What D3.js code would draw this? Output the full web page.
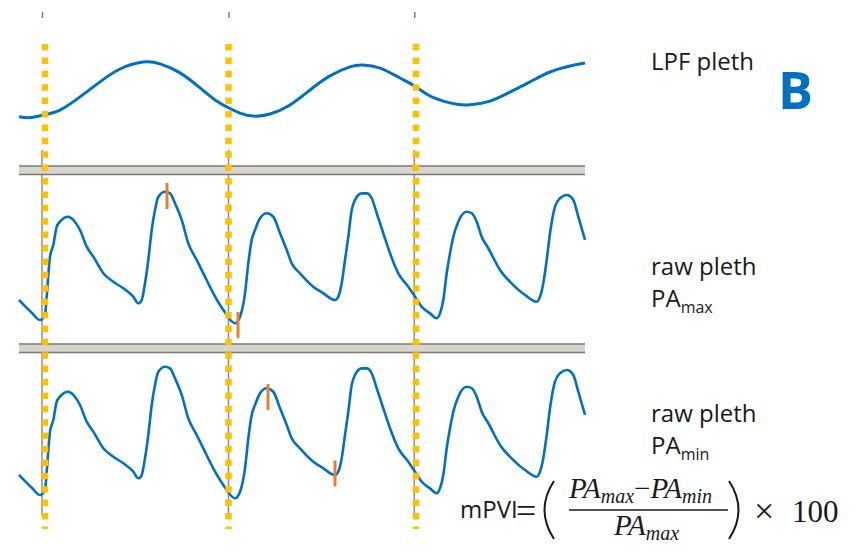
<!DOCTYPE html>
<html lang="en">
<head>
    <meta charset="UTF-8">
    <title>mPVI pleth</title>
    <script src="https://d3js.org/d3.v7.min.js"></script>
    <style>
        body { margin: 0; background: #fff; }
        text { font-family: "Open Sans", "Noto Sans", sans-serif; fill: #1a1a1a; }
        .math { font-family: "Liberation Serif", "DejaVu Serif", serif; }
    </style>
</head>
<body>
    <svg id="chart" width="865" height="556"></svg>

    <script>
        // time in seconds, values in arbitrary units
        const lpfTime = [0, 0.11, 0.25, 0.41, 0.61, 0.81, 1.01, 1.24, 1.41, 1.61, 1.81, 1.96, 2.10, 2.21, 2.34,
            2.51, 2.71, 2.91, 3.11, 3.31, 3.44, 3.61, 3.81, 3.97, 4.11, 4.31, 4.49, 4.71, 4.91, 5.11, 5.31, 5.51, 5.66];
        const lpfValue = [-0.89, -0.92, -0.83, -0.67, -0.23, 0.27, 0.70, 0.93, 0.87, 0.57, 0.07, -0.33, -0.60, -0.77, -0.87,
            -0.80, -0.50, 0.00, 0.47, 0.77, 0.83, 0.73, 0.40, 0.10, -0.20, -0.43, -0.50, -0.37, -0.07, 0.27, 0.60, 0.80, 0.90];

        const rawTime = [0, 0.06, 0.13, 0.21, 0.26, 0.277, 0.31, 0.343, 0.377, 0.41, 0.493, 0.543, 0.61, 0.677, 0.743,
            0.843, 0.943, 1.043, 1.143, 1.193, 1.227, 1.26, 1.293, 1.327, 1.36, 1.393, 1.46, 1.51, 1.56, 1.627, 1.693,
            1.777, 1.843, 1.943, 2.043, 2.16, 2.21, 2.26, 2.293, 2.327, 2.36, 2.41, 2.477, 2.543, 2.61, 2.677, 2.727,
            2.81, 2.943, 3.043, 3.16, 3.193, 3.227, 3.26, 3.293, 3.327, 3.36, 3.427, 3.477, 3.527, 3.577, 3.643, 3.71,
            3.793, 3.893, 3.96, 4.027, 4.11, 4.177, 4.21, 4.243, 4.277, 4.31, 4.343, 4.393, 4.477, 4.527, 4.577, 4.627,
            4.693, 4.81, 4.943, 5.06, 5.177, 5.21, 5.243, 5.277, 5.31, 5.36, 5.41, 5.477, 5.543, 5.593, 5.66];
        const rawValue = [0.214, 0.171, 0.121, 0.071, 0.107, 0.238, 0.524, 0.607, 0.738, 0.774, 0.809, 0.786, 0.714, 0.595, 0.524,
            0.405, 0.345, 0.298, 0.238, 0.191, 0.214, 0.334, 0.5, 0.714, 0.857, 0.952, 0.988, 0.976, 0.905, 0.786, 0.619,
            0.5, 0.405, 0.262, 0.143, 0.048, 0.095, 0.262, 0.476, 0.643, 0.714, 0.798, 0.834, 0.809, 0.691, 0.571, 0.476,
            0.405, 0.309, 0.262, 0.214, 0.238, 0.334, 0.5, 0.666, 0.857, 0.929, 0.976, 0.976, 0.941, 0.834, 0.691, 0.548,
            0.405, 0.309, 0.238, 0.166, 0.119, 0.084, 0.119, 0.214, 0.405, 0.548, 0.666, 0.774, 0.845, 0.834, 0.774, 0.666,
            0.584, 0.429, 0.321, 0.25, 0.202, 0.238, 0.334, 0.5, 0.691, 0.881, 0.941, 0.964, 0.929, 0.809, 0.643];

        // axis ticks and the dotted marker lines (s)
        const tickTimes = [0.23, 2.095, 3.953];
        const markTimes = [0.26, 2.095, 3.97];

        // orange PA markers on the raw traces
        const maxMarkers = [{ t: 1.48, v: 0.957 }, { t: 2.19, v: 0.036 }];
        const minMarkers = [{ t: 2.49, v: 0.771 }, { t: 3.16, v: 0.225 }];

        const svg = d3.select("#chart");
        const blue = "#0070c0";

        const x = d3.scaleLinear().domain([0, 5.66]).range([19, 585]);
        const yLpf = d3.scaleLinear().domain([-1, 1]).range([120, 60]);
        const yMid = d3.scaleLinear().domain([0, 1]).range([330, 190]);
        const yBot = d3.scaleLinear().domain([0, 1]).range([505, 365]);

        // top ticks
        const axis = svg.append("g")
            .attr("transform", "translate(0,18)")
            .call(d3.axisTop(x).tickValues(tickTimes).tickSize(6).tickFormat(""));
        axis.select(".domain").remove();
        axis.selectAll(".tick line").attr("stroke", "#7f7f7f").attr("stroke-width", 1.5);

        // thin gray lines under the dotted markers
        svg.selectAll(".vgrid")
            .data(tickTimes)
            .enter().append("line")
            .attr("x1", d => x(d)).attr("x2", d => x(d))
            .attr("y1", 150).attr("y2", 515)
            .attr("stroke", "#8c8c8c").attr("stroke-width", 1.5);

        // separator bars between panels
        [166, 344].forEach(function (y0) {
            svg.append("rect")
                .attr("x", x(0)).attr("y", y0)
                .attr("width", x(5.66) - x(0)).attr("height", 8.5)
                .attr("fill", "#d8d5cd");
            [y0, y0 + 8.5].forEach(function (yy) {
                svg.append("line")
                    .attr("x1", x(0)).attr("x2", x(5.66))
                    .attr("y1", yy).attr("y2", yy)
                    .attr("stroke", "#7a7a7a").attr("stroke-width", 1.6);
            });
        });

        // traces
        const lpf = d3.line().x((d, i) => x(lpfTime[i])).y(d => yLpf(d)).curve(d3.curveNatural);
        svg.append("path").datum(lpfValue)
            .attr("d", lpf)
            .attr("fill", "none").attr("stroke", blue).attr("stroke-width", 3);

        [yMid, yBot].forEach(function (ys) {
            const raw = d3.line().x((d, i) => x(rawTime[i])).y(d => ys(d)).curve(d3.curveMonotoneX);
            svg.append("path").datum(rawValue)
                .attr("d", raw)
                .attr("fill", "none").attr("stroke", blue).attr("stroke-width", 2.6)
                .attr("stroke-linejoin", "round");
        });

        // yellow dotted lines
        svg.selectAll(".mark")
            .data(markTimes)
            .enter().append("line")
            .attr("x1", d => x(d)).attr("x2", d => x(d))
            .attr("y1", 44).attr("y2", 529)
            .attr("stroke", "#ffc000").attr("stroke-width", 6.5)
            .attr("stroke-dasharray", "6.5 6.9");

        // orange markers
        function drawMarkers(data, ys) {
            svg.selectAll(null)
                .data(data)
                .enter().append("line")
                .attr("x1", d => x(d.t)).attr("x2", d => x(d.t))
                .attr("y1", d => ys(d.v) - 13).attr("y2", d => ys(d.v) + 13)
                .attr("stroke", "#ed7d31").attr("stroke-width", 3);
        }
        drawMarkers(maxMarkers, yMid);
        drawMarkers(minMarkers, yBot);

        // labels
        const fs = 24;
        svg.append("text").attr("x", 651).attr("y", 70).attr("font-size", fs).text("LPF pleth");
        svg.append("text").attr("x", 778).attr("y", 109).attr("font-size", 52)
            .attr("font-weight", "bold").style("fill", blue).text("B");

        function paLabel(y, sub) {
            svg.append("text").attr("x", 651).attr("y", y).attr("font-size", fs).text("raw pleth");
            const t = svg.append("text").attr("x", 651).attr("y", y + 32).attr("font-size", fs);
            t.append("tspan").text("PA");
            t.append("tspan").attr("font-size", 16).attr("dy", 6).text(sub);
        }
        paLabel(275, "max");
        paLabel(422, "min");

        // formula
        svg.append("text").attr("x", 460).attr("y", 518).attr("font-size", 24).text("mPVI");
        svg.append("text").attr("class", "math").attr("x", 516).attr("y", 523)
            .attr("font-size", 36).text("=");

        // thin tall parentheses
        const paren = d3.path();
        paren.moveTo(554, 481); paren.quadraticCurveTo(535, 510, 554, 539);
        paren.moveTo(729, 481); paren.quadraticCurveTo(748, 510, 729, 539);
        svg.append("path").attr("d", paren.toString())
            .attr("fill", "none").attr("stroke", "#1a1a1a").attr("stroke-width", 2);

        function pa(textSel, sub) {
            textSel.append("tspan").attr("font-style", "italic").text("PA");
            textSel.append("tspan").attr("font-style", "italic").attr("font-size", 20).attr("dy", 5).text(sub);
        }
        const num = svg.append("text").attr("class", "math").attr("x", 569).attr("y", 498)
            .attr("font-size", 29);
        pa(num, "max");
        num.append("tspan").attr("dy", -5).text("\u2212");
        pa(num, "min");

        svg.append("line").attr("x1", 569).attr("x2", 728).attr("y1", 510).attr("y2", 510)
            .attr("stroke", "#1a1a1a").attr("stroke-width", 1.4);

        const den = svg.append("text").attr("class", "math").attr("x", 614).attr("y", 535)
            .attr("font-size", 29);
        pa(den, "max");

        svg.append("text").attr("class", "math").attr("x", 754).attr("y", 523)
            .attr("font-size", 36).text("\u00d7");
        svg.append("text").attr("class", "math").attr("x", 792).attr("y", 522)
            .attr("font-size", 31).text("100");
    </script>
</body>
</html>
